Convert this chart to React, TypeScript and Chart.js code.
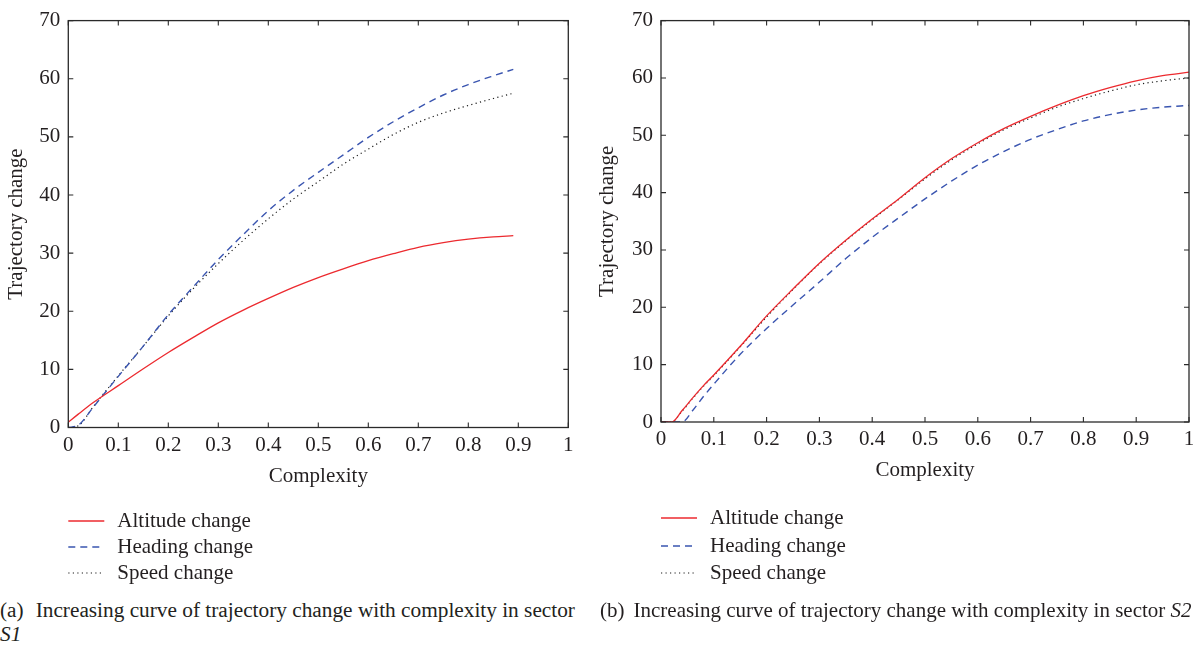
import React, { useEffect, useRef } from "react";
import { Chart, registerables } from "chart.js";

Chart.register(...registerables);

const FONT_FAMILY = '"Liberation Serif", "Times New Roman", serif';
const FONT_SIZE = 21;
const TEXT_COLOR = "#231f20";
const FRAME_COLOR = "#2a2a2a";
const ALT_COLOR = "#ec2a2f";
const HEAD_COLOR = "#3a55b0";
const SPEED_COLOR = "#1c1c1c";

// Sector S1
const s1Complexity = [0, 0.02, 0.05, 0.1, 0.15, 0.2, 0.25, 0.3, 0.35, 0.4, 0.45, 0.5, 0.55, 0.6, 0.65, 0.7, 0.75, 0.8, 0.85, 0.89];
const s1Altitude = [0.9, 2.3, 4.3, 7.2, 10.1, 12.9, 15.5, 18.0, 20.2, 22.2, 24.1, 25.8, 27.3, 28.7, 29.9, 31.0, 31.8, 32.4, 32.8, 33.0];
const s1Heading = [0, 0.4, 3.5, 8.8, 14.0, 19.4, 24.2, 28.9, 33.2, 37.3, 40.8, 43.9, 46.9, 49.9, 52.6, 55.0, 57.2, 59.0, 60.5, 61.6];
const s1Speed = [0, 0.3, 3.6, 8.9, 14.0, 19.2, 23.9, 28.2, 32.2, 35.9, 39.3, 42.3, 45.3, 47.9, 50.4, 52.5, 54.1, 55.4, 56.6, 57.5];

// Sector S2
const s2Complexity = [0, 0.02, 0.04, 0.06, 0.08, 0.1, 0.15, 0.2, 0.25, 0.3, 0.35, 0.4, 0.45, 0.5, 0.55, 0.6, 0.65, 0.7, 0.75, 0.8, 0.85, 0.9, 0.95, 1.0];
const s2Altitude = [0, 0, 2.0, 4.2, 6.3, 8.2, 13.2, 18.5, 23.2, 27.7, 31.7, 35.4, 38.9, 42.6, 45.9, 48.7, 51.2, 53.3, 55.2, 56.9, 58.3, 59.5, 60.4, 61.0];
const s2Heading = [0, 0, 0, 2.0, 4.4, 6.6, 11.8, 16.3, 20.4, 24.4, 28.5, 32.2, 35.6, 38.9, 42.0, 44.8, 47.2, 49.3, 51.0, 52.5, 53.6, 54.4, 54.9, 55.2];
const s2Speed = [0, 0, 1.9, 4.1, 6.2, 8.1, 13.1, 18.3, 23.1, 27.6, 31.6, 35.3, 38.8, 42.4, 45.7, 48.5, 51.0, 53.0, 54.9, 56.4, 57.7, 58.8, 59.5, 60.0];

const seriesLabels = ["Altitude change", "Heading change", "Speed change"];
const xTitle = "Complexity";
const yTitle = "Trajectory change";

type PanelLayout = {
  left: number;
  width: number;
  height: number;
  plotTop: number;
  plotRight: number;
  plotBottom: number;
  yAxisWidth: number;
  yTitlePad: number;
  legendRows: number[];
};

const font = (size: number) => ({ family: FONT_FAMILY, size, weight: "normal" as const });

// Box frame with inward tick marks on all four sides
const framePlugin = {
  id: "boxFrame",
  afterDatasetsDraw(chart: any) {
    const { ctx, chartArea } = chart;
    const { left, right, top, bottom } = chartArea;
    const xs = chart.scales.x;
    const ys = chart.scales.y;
    const len = 5;
    ctx.save();
    ctx.strokeStyle = FRAME_COLOR;
    ctx.lineWidth = 1.3;
    ctx.setLineDash([]);
    ctx.strokeRect(left, top, right - left, bottom - top);
    ctx.lineWidth = 1.1;
    ctx.beginPath();
    xs.ticks.forEach((t: any) => {
      const px = xs.getPixelForValue(t.value);
      ctx.moveTo(px, bottom);
      ctx.lineTo(px, bottom - len);
      ctx.moveTo(px, top);
      ctx.lineTo(px, top + len);
    });
    ys.ticks.forEach((t: any) => {
      const py = ys.getPixelForValue(t.value);
      ctx.moveTo(left, py);
      ctx.lineTo(left + len, py);
      ctx.moveTo(right, py);
      ctx.lineTo(right - len, py);
    });
    ctx.stroke();
    ctx.restore();
  },
};

// Vertical legend below the axes, one row per dataset
const makeLegendPlugin = (rows: number[]) => ({
  id: "stackedLegend",
  afterDraw(chart: any) {
    const { ctx, chartArea } = chart;
    const x0 = chartArea.left;
    const x1 = x0 + 36;
    const textX = x0 + 49;
    ctx.save();
    chart.data.datasets.forEach((ds: any, i: number) => {
      const y = rows[i];
      ctx.strokeStyle = ds.borderColor;
      ctx.lineWidth = ds.borderWidth;
      ctx.setLineDash(ds.borderDash || []);
      ctx.beginPath();
      ctx.moveTo(x0, y);
      ctx.lineTo(x1, y);
      ctx.stroke();
      ctx.setLineDash([]);
      ctx.fillStyle = TEXT_COLOR;
      ctx.font = `${FONT_SIZE}px ${FONT_FAMILY}`;
      ctx.textBaseline = "middle";
      ctx.textAlign = "left";
      ctx.fillText(ds.label, textX, y);
    });
    ctx.restore();
  },
});

function TrajectoryPanel(props: {
  complexity: number[];
  altitude: number[];
  heading: number[];
  speed: number[];
  layout: PanelLayout;
}) {
  const ref = useRef<HTMLCanvasElement>(null);
  const { complexity, altitude, heading, speed, layout } = props;

  useEffect(() => {
    if (!ref.current) return;
    const pts = (ys: number[]) => complexity.map((x, i) => ({ x, y: ys[i] }));
    const xAxisHeight = 70;
    const chart = new Chart(ref.current, {
      type: "line",
      data: {
        datasets: [
          { label: seriesLabels[0], data: pts(altitude), borderColor: ALT_COLOR, borderWidth: 1.3, borderDash: [] },
          { label: seriesLabels[1], data: pts(heading), borderColor: HEAD_COLOR, borderWidth: 1.4, borderDash: [7, 5] },
          { label: seriesLabels[2], data: pts(speed), borderColor: SPEED_COLOR, borderWidth: 1.2, borderDash: [1.2, 3.3] },
        ],
      },
      options: {
        animation: false,
        responsive: false,
        maintainAspectRatio: false,
        elements: {
          point: { radius: 0, hoverRadius: 0 },
          line: { cubicInterpolationMode: "monotone", fill: false },
        },
        layout: {
          padding: {
            left: 0,
            top: layout.plotTop,
            right: layout.width - layout.plotRight,
            bottom: layout.height - layout.plotBottom - xAxisHeight,
          },
        },
        plugins: {
          legend: { display: false },
          tooltip: { enabled: false },
        },
        scales: {
          x: {
            type: "linear",
            min: 0,
            max: 1,
            afterFit: (s: any) => {
              s.height = xAxisHeight;
            },
            grid: { display: false, drawTicks: false },
            border: { display: false },
            ticks: {
              stepSize: 0.1,
              autoSkip: false,
              maxRotation: 0,
              padding: 5,
              color: TEXT_COLOR,
              font: font(FONT_SIZE),
              callback: (v: any) => String(Number(Number(v).toFixed(1))),
            },
            title: {
              display: true,
              text: xTitle,
              color: TEXT_COLOR,
              font: font(FONT_SIZE),
              padding: { top: 0, bottom: 8.5 },
            },
          },
          y: {
            type: "linear",
            min: 0,
            max: 70,
            afterFit: (s: any) => {
              s.width = layout.yAxisWidth;
            },
            grid: { display: false, drawTicks: false },
            border: { display: false },
            ticks: {
              stepSize: 10,
              padding: 8,
              color: TEXT_COLOR,
              font: font(FONT_SIZE),
            },
            title: {
              display: true,
              text: yTitle,
              color: TEXT_COLOR,
              font: font(FONT_SIZE),
              padding: { top: layout.yTitlePad, bottom: 0 },
            },
          },
        },
      },
      plugins: [framePlugin, makeLegendPlugin(layout.legendRows)],
    } as any);
    return () => chart.destroy();
  }, []);

  return (
    <canvas
      ref={ref}
      width={layout.width}
      height={layout.height}
      style={{ position: "absolute", left: layout.left, top: 0, width: layout.width, height: layout.height }}
    />
  );
}

const leftLayout: PanelLayout = {
  left: 0,
  width: 600,
  height: 595,
  plotTop: 16.7,
  plotRight: 568.3,
  plotBottom: 427.5,
  yAxisWidth: 68.3,
  yTitlePad: 4,
  legendRows: [521, 547, 573],
};

const rightLayout: PanelLayout = {
  left: 592,
  width: 608,
  height: 595,
  plotTop: 13.3,
  plotRight: 597,
  plotBottom: 422,
  yAxisWidth: 69,
  yTitlePad: 3,
  legendRows: [518, 546, 573],
};

const captionStyle: React.CSSProperties = {
  position: "absolute",
  top: 598,
  fontFamily: FONT_FAMILY,
  fontSize: 21.3,
  lineHeight: "24px",
  color: TEXT_COLOR,
  whiteSpace: "nowrap",
};

export default function App() {
  return (
    <div style={{ position: "absolute", left: 0, top: 0, width: 1200, height: 650, background: "#fff", overflow: "hidden" }}>
      <TrajectoryPanel complexity={s1Complexity} altitude={s1Altitude} heading={s1Heading} speed={s1Speed} layout={leftLayout} />
      <TrajectoryPanel complexity={s2Complexity} altitude={s2Altitude} heading={s2Heading} speed={s2Speed} layout={rightLayout} />
      <div style={{ ...captionStyle, left: 0 }}>
        <span style={{ marginRight: 12 }}>(a)</span>Increasing curve of trajectory change with complexity in sector
        <br />
        <i>S1</i>
      </div>
      <div style={{ ...captionStyle, left: 600, fontSize: 21 }}>
        <span style={{ marginRight: 9 }}>(b)</span>Increasing curve of trajectory change with complexity in sector <i>S2</i>
      </div>
    </div>
  );
}
